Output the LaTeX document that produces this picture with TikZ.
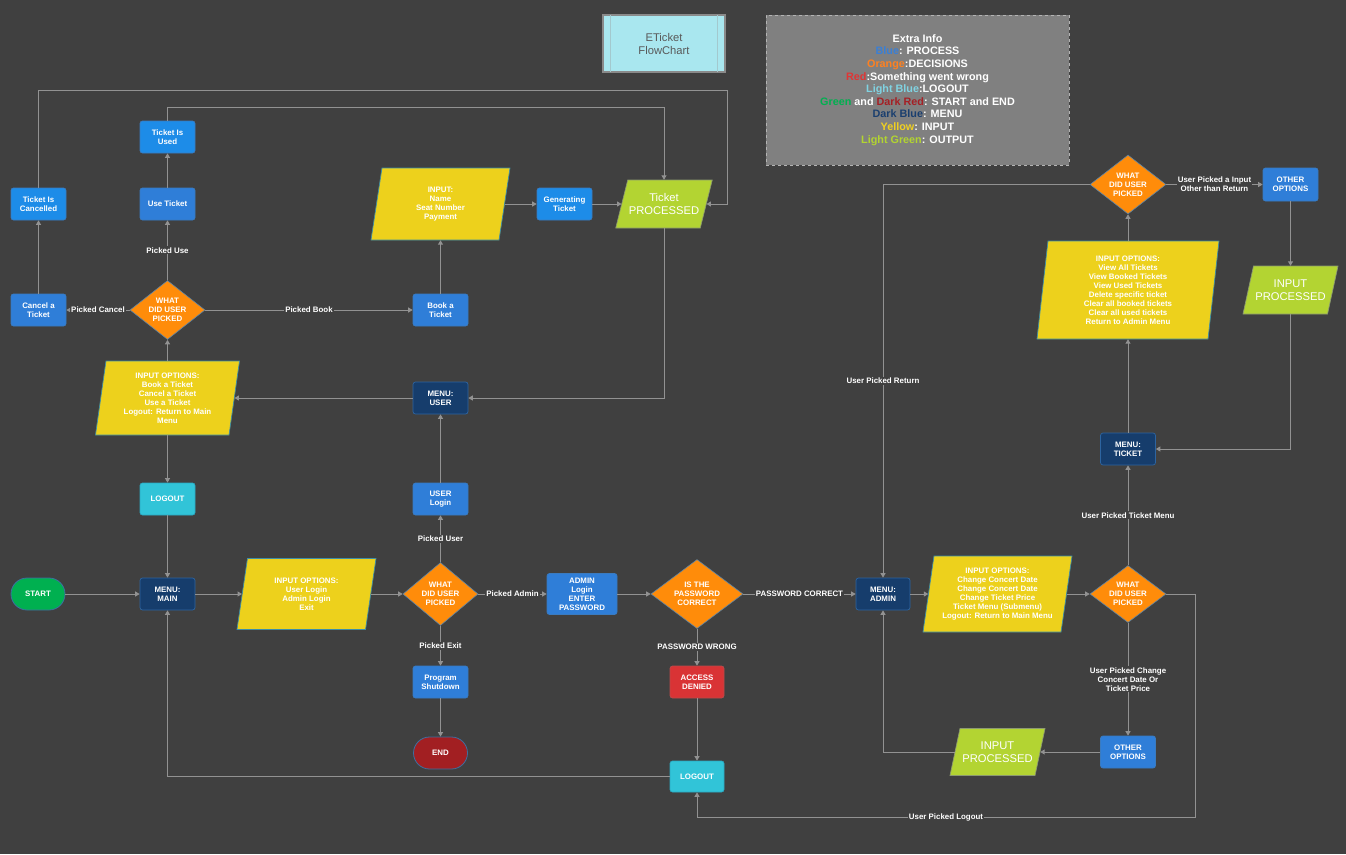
\documentclass[tikz,border=0pt]{standalone}
\usepackage{fontspec}
\setmainfont{Liberation Sans}
\usetikzlibrary{shapes.geometric,arrows.meta}
\definecolor{bg}{HTML}{404040}
\definecolor{linec}{HTML}{929292}
\definecolor{procblue}{HTML}{2F7ED8}
\definecolor{brightblue}{HTML}{1D8CE8}
\definecolor{procbd}{HTML}{3A7BC0}
\definecolor{menublue}{HTML}{163D6C}
\definecolor{menubd}{HTML}{2D64A0}
\definecolor{orangec}{HTML}{FF8C0A}
\definecolor{decbd}{HTML}{5A84A8}
\definecolor{yellowc}{HTML}{EDD11C}
\definecolor{yelbd}{HTML}{3D8EA6}
\definecolor{lgreenc}{HTML}{B3D432}
\definecolor{lgreenbd}{HTML}{8C9A70}
\definecolor{logoutc}{HTML}{31C4D8}
\definecolor{logoutbd}{HTML}{2AA8C2}
\definecolor{startg}{HTML}{00B050}
\definecolor{endred}{HTML}{A21F22}
\definecolor{termbd}{HTML}{3D6FA0}
\definecolor{accred}{HTML}{D93335}
\definecolor{errbd}{HTML}{B84B4B}
\definecolor{titlefill}{HTML}{A9E7EF}
\definecolor{titlebd}{HTML}{8A8A8A}
\definecolor{titleinner}{HTML}{A3C9CE}
\definecolor{legendfill}{HTML}{808080}
\definecolor{legendbd}{HTML}{B4B4B4}
\definecolor{lgBlue}{HTML}{3A7FD5}
\definecolor{lgOrange}{HTML}{FF8020}
\definecolor{lgRed}{HTML}{E03535}
\definecolor{lgLBlue}{HTML}{80D3E2}
\definecolor{lgGreen}{HTML}{00B050}
\definecolor{lgDRed}{HTML}{A52025}
\definecolor{lgDBlue}{HTML}{1B3F6F}
\definecolor{lgYellow}{HTML}{F0D020}
\definecolor{lgLGreen}{HTML}{B2D431}
\newcommand\smf{\fontsize{7.9}{9}\selectfont\bfseries}
\newcommand\bigf{\fontsize{11.2}{13}\selectfont}
\newcommand\lgf{\fontsize{10.8}{12.6}\selectfont\bfseries}
\newcommand\pnode[9]{%
  \path[#7, line width=0.7pt] ({#2-#4/2+#6/2},{#3-#5/2}) -- ({#2+#4/2+#6/2},{#3-#5/2}) -- ({#2+#4/2-#6/2},{#3+#5/2}) -- ({#2-#4/2-#6/2},{#3+#5/2}) -- cycle;
  \node[parbox, minimum width=#4, minimum height=#5, #8] (#1) at (#2,#3) {#9};}
\tikzset{
  every node/.style={text=white, align=center, font=\smf, inner sep=1pt},
  box/.style={rectangle, rounded corners=2.5pt, minimum width=55, minimum height=32, line width=0.7pt},
  proc/.style={box, fill=procblue, draw=procbd},
  procb/.style={box, fill=brightblue, draw=procbd},
  menu/.style={box, fill=menublue, draw=menubd},
  logoutbox/.style={box, fill=logoutc, draw=logoutbd},
  errbox/.style={box, fill=accred, draw=errbd},
  term/.style={rectangle, rounded corners=16pt, minimum width=54, minimum height=32, line width=0.8pt, draw=termbd},
  decision/.style={diamond, fill=orangec, draw=decbd, line width=0.6pt, inner sep=0pt, aspect=1.3},
  parbox/.style={rectangle, inner sep=0pt},
  yelpar/.style={fill=yellowc, draw=yelbd},
  grnpar/.style={fill=lgreenc, draw=lgreenbd},
  conn/.style={draw=linec, line width=1pt, -{Triangle[length=4.5pt,width=5pt]}},
  elab/.style={fill=bg, inner sep=1.2pt, text=white, font=\smf},
}
\begin{document}
\begin{tikzpicture}[x=1pt,y=-1pt]
\fill[bg] (0,0) rectangle (1346,854);
\useasboundingbox (0,0) rectangle (1346,854);

% title and legend
\node[rectangle, minimum width=122, minimum height=57, fill=titlefill, draw=titlebd, line width=1.2pt, text=black!65, font=\bigf] (title) at (664,43.5) {ETicket\\FlowChart};
\draw[titleinner, line width=0.8pt] ([xshift=8pt,yshift=-0.6pt]title.north west) -- ([xshift=8pt,yshift=0.6pt]title.south west);
\draw[titleinner, line width=0.8pt] ([xshift=-8pt,yshift=-0.6pt]title.north east) -- ([xshift=-8pt,yshift=0.6pt]title.south east);
\node[rectangle, minimum width=303, minimum height=150, fill=legendfill, draw=legendbd, dashed, line width=1pt, font=\lgf] (legend) at (917.5,90) {Extra Info\\
\textcolor{lgBlue}{Blue}: PROCESS\\
\textcolor{lgOrange}{Orange}:DECISIONS\\
\textcolor{lgRed}{Red}:Something went wrong\\
\textcolor{lgLBlue}{Light Blue}:LOGOUT\\
\textcolor{lgGreen}{Green} and \textcolor{lgDRed}{Dark Red}: START and END\\
\textcolor{lgDBlue}{Dark Blue}: MENU\\
\textcolor{lgYellow}{Yellow}: INPUT\\
\textcolor{lgLGreen}{Light Green}: OUTPUT};

% main row
\node[term, fill=startg] (start) at (38,594) {START};
\node[menu] (mmain) at (167.5,594) {MENU:\\MAIN};
\pnode{inmain}{306.5}{594}{128.5}{71}{10.5}{yelpar}{}{INPUT OPTIONS:\\User Login\\Admin Login\\Exit}
\node[decision, minimum width=75, minimum height=63] (d2) at (440.5,594) {WHAT\\DID USER\\PICKED};
\node[proc] (userlogin) at (440.5,499) {USER\\Login};
\node[menu] (muser) at (440.5,398) {MENU:\\USER};
\node[proc] (shutdown) at (440.5,682) {Program\\Shutdown};
\node[term, fill=endred] (endn) at (440.5,753) {END};
\node[proc, minimum width=70, minimum height=41] (admin) at (582,594) {ADMIN\\Login\\ENTER\\PASSWORD};
\node[decision, minimum width=92, minimum height=69, aspect=1.33] (d3) at (697,594) {IS THE\\PASSWORD\\CORRECT};
\node[errbox, minimum width=54] (denied) at (697,682) {ACCESS\\DENIED};
\node[logoutbox, minimum width=54, minimum height=31] (logout2) at (697,776.5) {LOGOUT};
\node[menu, minimum width=54] (madmin) at (883,594) {MENU:\\ADMIN};
\pnode{inadmin}{997.5}{594}{138}{76}{11}{yelpar}{}{INPUT OPTIONS:\\Change Concert Date\\Change Concert Date\\Change Ticket Price\\Ticket Menu (Submenu)\\Logout: Return to Main Menu}
\node[decision, minimum width=76, minimum height=57] (d5) at (1128,594) {WHAT\\DID USER\\PICKED};
\node[menu] (mticket) at (1128,449) {MENU:\\TICKET};
\node[proc] (other2) at (1128,752) {OTHER\\OPTIONS};
\pnode{inproc2}{997.5}{752}{85}{47}{10}{grnpar}{font=\bigf}{INPUT\\PROCESSED}
\pnode{inticket}{1128}{290}{171}{98}{11}{yelpar}{}{INPUT OPTIONS:\\View All Tickets\\View Booked Tickets\\View Used Tickets\\Delete specific ticket\\Clear all booked tickets\\Clear all used tickets\\Return to Admin Menu}
\node[decision, minimum width=76, minimum height=59] (d4) at (1128,184.5) {WHAT\\DID USER\\PICKED};
\node[proc, minimum height=33] (other1) at (1290.5,184.5) {OTHER\\OPTIONS};
\pnode{inproc1}{1290.5}{290}{84.5}{48}{10.5}{grnpar}{font=\bigf}{INPUT\\PROCESSED}

% user branch
\pnode{inuser}{167.5}{398}{133.5}{74}{10.5}{yelpar}{}{INPUT OPTIONS:\\Book a Ticket\\Cancel a Ticket\\Use a Ticket\\Logout: Return to Main\\Menu}
\node[logoutbox] (logout1) at (167.5,499) {LOGOUT};
\node[decision, minimum width=75, minimum height=59] (d1) at (167.5,310) {WHAT\\DID USER\\PICKED};
\node[proc] (cancel) at (38.5,310) {Cancel a\\Ticket};
\node[proc] (useticket) at (167.5,204) {Use Ticket};
\node[procb] (used) at (167.5,137) {Ticket Is\\Used};
\node[procb] (cancelled) at (38.5,204) {Ticket Is\\Cancelled};
\node[proc] (book) at (440.5,310) {Book a\\Ticket};
\pnode{ininput}{440.5}{204}{128}{72}{11}{yelpar}{}{INPUT:\\Name\\Seat Number\\Payment}
\node[procb] (gen) at (564.5,204) {Generating\\Ticket};
\pnode{tproc}{664}{204}{84.5}{48}{12}{grnpar}{font=\bigf}{Ticket\\PROCESSED}

% helper coordinates
\coordinate (t1) at (167.5,107);
\coordinate (t3) at (727,90);
\coordinate (r2) at (1195,817);

% connectors
\draw[conn] (start.east) -- (mmain.west);
\draw[conn] (mmain.east) -- (inmain.west);
\draw[conn] (inmain.east) -- (d2.west);
\draw[conn] (d2.north) -- node[elab] {Picked User} (userlogin.south);
\draw[conn] (d2.south) -- node[elab] {Picked Exit} (shutdown.north);
\draw[conn] (shutdown.south) -- (endn.north);
\draw[conn] (d2.east) -- node[elab] {Picked Admin} (admin.west);
\draw[conn] (admin.east) -- (d3.west);
\draw[conn] (d3.south) -- node[elab] {PASSWORD WRONG} (denied.north);
\draw[conn] (denied.south) -- (logout2.north);
\draw[conn] (logout2.west) -| (mmain.south);
\draw[conn] (d3.east) -- node[elab] {PASSWORD CORRECT} (madmin.west);
\draw[conn] (madmin.east) -- (inadmin.west);
\draw[conn] (inadmin.east) -- (d5.west);
\draw[conn] (d5.north) -- node[elab] {User Picked Ticket Menu} (mticket.south);
\draw[conn] (d5.south) -- node[elab] {User Picked Change\\Concert Date Or\\Ticket Price} (other2.north);
\draw[conn] (other2.west) -- (inproc2.east);
\draw[conn] (inproc2.west) -| (madmin.south);
\draw[conn] (d5.east) -| (r2) -| node[elab, pos=0.25] {User Picked Logout} (logout2.south);
\draw[conn] (mticket.north) -- (inticket.south);
\draw[conn] (inticket.north) -- (d4.south);
\draw[conn] (d4.east) -- node[elab] {User Picked a Input\\Other than Return} (other1.west);
\draw[conn] (other1.south) -- (inproc1.north);
\draw[conn] (inproc1.south) |- (mticket.east);
\draw[conn] (d4.west) -| node[elab, pos=0.75] {User Picked Return} (madmin.north);
\draw[conn] (userlogin.north) -- (muser.south);
\draw[conn] (muser.west) -- (inuser.east);
\draw[conn] (inuser.south) -- (logout1.north);
\draw[conn] (logout1.south) -- (mmain.north);
\draw[conn] (inuser.north) -- (d1.south);
\draw[conn] (d1.west) -- node[elab] {Picked Cancel} (cancel.east);
\draw[conn] (d1.north) -- node[elab] {Picked Use} (useticket.south);
\draw[conn] (d1.east) -- node[elab] {Picked Book} (book.west);
\draw[conn] (cancel.north) -- (cancelled.south);
\draw[conn] (useticket.north) -- (used.south);
\draw[conn] (book.north) -- (ininput.south);
\draw[conn] (ininput.east) -- (gen.west);
\draw[conn] (gen.east) -- (tproc.west);
\draw[conn] (used.north) -- (t1) -| (tproc.north);
\draw[conn] (cancelled.north) |- (t3) |- (tproc.east);
\draw[conn] (tproc.south) |- (muser.east);
\end{tikzpicture}
\end{document}
